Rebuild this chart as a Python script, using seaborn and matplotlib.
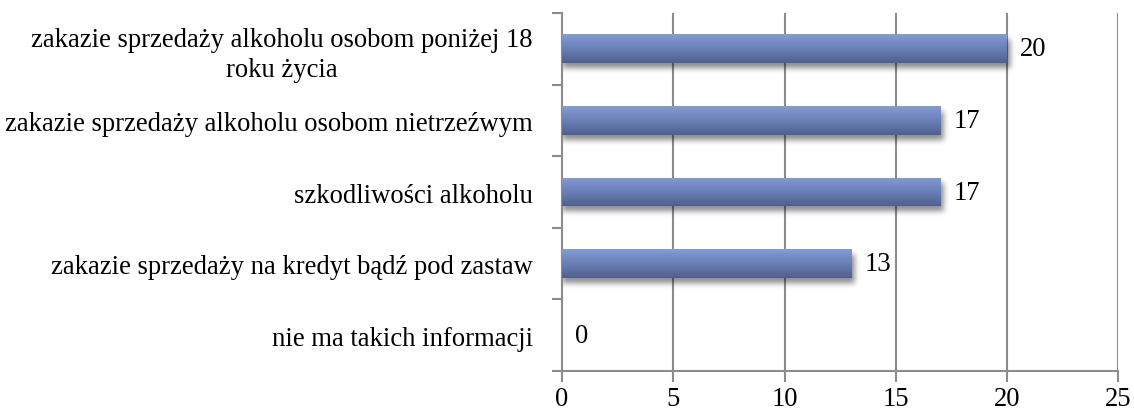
import math
import numpy as np
import pandas as pd
import matplotlib
matplotlib.use("Agg")
import matplotlib.pyplot as plt
import seaborn as sns
from matplotlib.ticker import FixedLocator

categories = [
    "zakazie sprzedaży alkoholu osobom poniżej 18\nroku życia",
    "zakazie sprzedaży alkoholu osobom nietrzeźwym",
    "szkodliwości alkoholu",
    "zakazie sprzedaży na kredyt bądź pod zastaw",
    "nie ma takich informacji",
]
values = [20, 17, 17, 13, 0]
x_ticks = [0, 5, 10, 15, 20, 25]

sns.set_theme(style="white")
plt.rcParams["font.family"] = ["Liberation Serif", "DejaVu Serif"]
FS = 19.2

df = pd.DataFrame({"kategoria": categories, "liczba": values})

fig = plt.figure(figsize=(11.34, 4.14), dpi=100)
ax = fig.add_axes([0.4956, 0.1014, 0.4905, 0.8648])

sns.barplot(data=df, y="kategoria", x="liczba", orient="h", width=0.4,
            color="#6b80b5", linewidth=0, ax=ax, zorder=3)

ax.set_xlim(0, 25)
ax.set_ylim(4.5, -0.5)
fig.canvas.draw()

# data units per pixel
bb = ax.get_window_extent()
ux = 25 / bb.width
uy = 5 / bb.height

erf = np.vectorize(math.erf)


def soft_step(t, a, b, s):
    return 0.5 * (erf((t - a) / s) - erf((t - b) / s))


grad = np.linspace(0, 1, 64).reshape(-1, 1)
cmap = matplotlib.colors.LinearSegmentedColormap.from_list(
    "bar", ["#839cd3", "#6a80b6", "#4f608c"])
for p in list(ax.patches):
    x0, y0 = p.get_x(), p.get_y()
    w, h = p.get_width(), p.get_height()
    if w <= 0:
        continue
    # blurred drop shadow under the bar
    wp, hp = w / ux, h / uy
    m = 18
    xs = np.arange(-m, wp + m)
    ys = np.arange(-m, hp + m)
    ax_ = soft_step(xs, 0, wp + 3, 4.0)
    ay_ = soft_step(ys, 5, hp + 5, 4.0)
    alpha = 0.45 * np.outer(ay_, ax_)
    rgba = np.zeros(alpha.shape + (4,))
    rgba[..., 3] = alpha
    ax.imshow(rgba, aspect="auto", interpolation="bilinear",
              extent=(x0 - m * ux, x0 + (wp + m) * ux,
                      y0 + (hp + m) * uy, y0 - m * uy), zorder=2)
    # vertical gradient fill clipped to the bar
    im = ax.imshow(grad, aspect="auto", cmap=cmap,
                   extent=(x0, x0 + w, y0 + h, y0), zorder=4)
    im.set_clip_path(p)
ax.set_xlim(0, 25)
ax.set_ylim(4.5, -0.5)

for i, v in enumerate(values):
    ax.text(v + 0.6, i, str(v), va="center", ha="left", fontsize=FS,
            color="black", zorder=5)

ax.set_xticks(x_ticks)
ax.set_xticklabels([str(t) for t in x_ticks], fontsize=FS, color="black")
ax.set_yticks(range(len(categories)))
ax.set_yticklabels(categories, fontsize=FS, multialignment="center",
                   linespacing=1.25, color="black")
ax.yaxis.set_minor_locator(FixedLocator(np.arange(-0.5, 5, 1.0)))
ax.tick_params(axis="y", which="major", length=0, pad=21)
ax.tick_params(axis="y", which="minor", length=7, width=1.5, color="#8c8c8c", left=True)
ax.tick_params(axis="x", which="major", length=8, width=1.5, color="#8c8c8c",
               bottom=True, pad=3)
ax.set_xlabel("")
ax.set_ylabel("")

ax.grid(axis="x", color="#8c8c8c", lw=1.5, zorder=0)
ax.set_axisbelow(True)
for s in ["top", "right"]:
    ax.spines[s].set_visible(False)
for s in ["left", "bottom"]:
    ax.spines[s].set_color("#8c8c8c")
    ax.spines[s].set_linewidth(1.5)

fig.savefig("out.png", dpi=100, facecolor="white")
